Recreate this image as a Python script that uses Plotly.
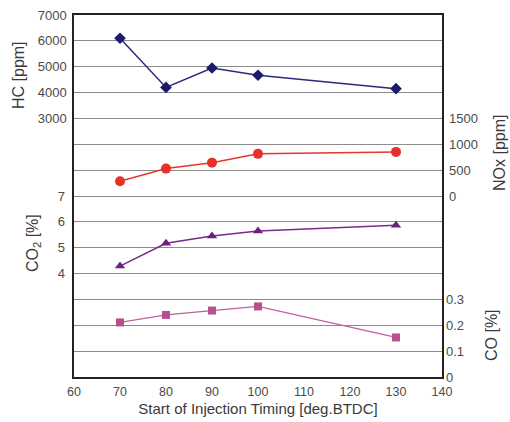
import plotly.graph_objects as go

timing = [70, 80, 90, 100, 130]
hc_ppm = [6100, 4200, 4950, 4670, 4150]
nox_ppm = [285, 530, 645, 815, 853]
co2_pct = [4.29, 5.17, 5.45, 5.65, 5.87]
co_pct = [0.211, 0.24, 0.257, 0.273, 0.153]

x_ticks = [60, 70, 80, 90, 100, 110, 120, 130, 140]
hc_ticks = [3000, 4000, 5000, 6000, 7000]
nox_ticks = [0, 500, 1000, 1500]
co2_ticks = [4, 5, 6, 7]
co_ticks = [0, 0.1, 0.2, 0.3]

FONT = "Liberation Sans, Arial, sans-serif"
TICKC = "#4a4a4a"
TITLEC = "#3a3a3a"

fig = go.Figure()
fig.add_trace(go.Scatter(x=timing, y=hc_ppm, yaxis="y", mode="lines+markers",
                         line=dict(color="#2a2a78", width=1.5),
                         marker=dict(symbol="diamond", size=9, color="#1c1a6a")))
fig.add_trace(go.Scatter(x=timing, y=nox_ppm, yaxis="y2", mode="lines+markers",
                         line=dict(color="#e8362e", width=1.5),
                         marker=dict(symbol="circle", size=10, color="#e8302a")))
fig.add_trace(go.Scatter(x=timing, y=co2_pct, yaxis="y3", mode="lines+markers",
                         line=dict(color="#7a2a8c", width=1.5),
                         marker=dict(symbol="triangle-up", size=9, color="#6a2080")))
fig.add_trace(go.Scatter(x=timing, y=co_pct, yaxis="y4", mode="lines+markers",
                         line=dict(color="#c060a0", width=1.3),
                         marker=dict(symbol="square", size=8, color="#b8508f")))

grid_vals = list(range(-7000, 7001, 1000))
grid_text = [str(v) if v in hc_ticks else "" for v in grid_vals]

tickfont = dict(family=FONT, size=13, color=TICKC)
xtickfont = dict(family=FONT, size=12.5, color=TICKC)

fig.update_layout(
    width=510, height=422,
    margin=dict(l=74, r=68, t=15, b=45, autoexpand=False),
    paper_bgcolor="white", plot_bgcolor="white",
    showlegend=False,
    xaxis=dict(range=[60, 140], tickvals=x_ticks, showgrid=False, zeroline=False,
               showline=True, linecolor="#222", linewidth=1.5, mirror=True,
               ticks="", tickfont=xtickfont, ticklabelstandoff=2, automargin=False,
               title=dict(text="Start of Injection Timing [deg.BTDC]",
                          font=dict(family=FONT, size=15, color=TITLEC), standoff=6)),
    yaxis=dict(range=[-7000, 7000], tickvals=grid_vals, ticktext=grid_text,
               showgrid=True, gridcolor="#8c8c8c", gridwidth=1, zeroline=False,
               showline=True, linecolor="#222", linewidth=1.5, mirror=True,
               ticks="", tickfont=tickfont, ticklabelstandoff=3, automargin=False),
    yaxis2=dict(range=[-3500, 3500], tickvals=nox_ticks, overlaying="y", side="right",
                showgrid=False, zeroline=False, showline=False, ticks="",
                tickfont=tickfont, ticklabelstandoff=6, automargin=False),
    yaxis3=dict(range=[0, 14], tickvals=co2_ticks, overlaying="y", side="left",
                showgrid=False, zeroline=False, showline=False, ticks="",
                tickfont=tickfont, ticklabelstandoff=8, automargin=False),
    yaxis4=dict(range=[0, 1.4], tickvals=co_ticks, overlaying="y", side="right",
                showgrid=False, zeroline=False, showline=False, ticks="",
                tickfont=tickfont, ticklabelstandoff=3, automargin=False),
)

titlefont = dict(family=FONT, size=16, color=TITLEC)
for text, xp, yp in [("HC [ppm]", 18, 75), ("CO<sub>2</sub> [%]", 34, 243),
                     ("NOx [ppm]", 499, 153), ("CO [%]", 491, 335)]:
    fig.add_annotation(text=text, xref="paper", yref="paper",
                       x=(xp - 74) / 368, y=(377 - yp) / 362,
                       xanchor="center", yanchor="middle", textangle=-90,
                       showarrow=False, font=titlefont)

fig.write_html("out.html")
